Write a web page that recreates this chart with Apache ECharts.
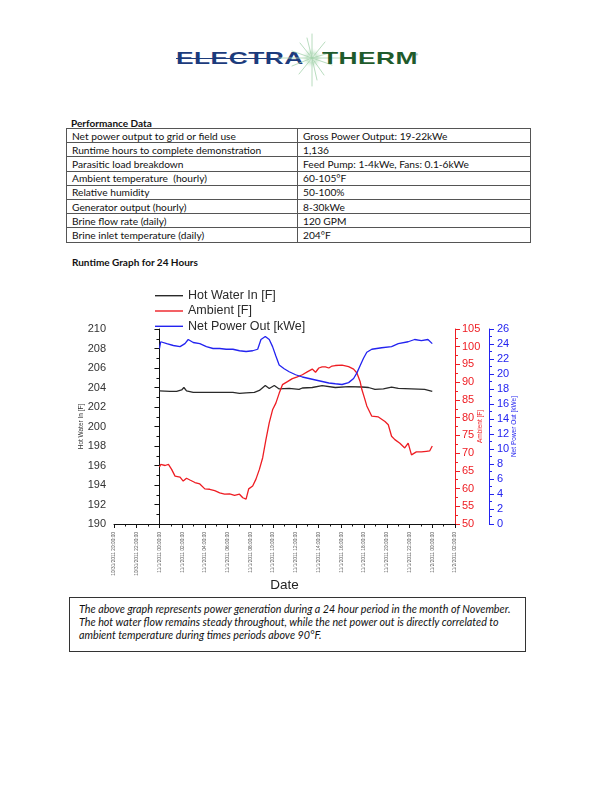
<!DOCTYPE html>
<html><head><meta charset="utf-8">
<script src="https://cdn.jsdelivr.net/npm/echarts@6/dist/echarts.min.js"></script>
<style>
html,body{margin:0;padding:0;background:#fff;}
#page{position:relative;width:612px;height:792px;overflow:hidden;font-family:Lato,"Open Sans",sans-serif;color:#111;}
#chart{position:absolute;left:0;top:0;width:612px;height:792px;}
.logo-t{position:absolute;font-family:"Liberation Sans",Arial,sans-serif;font-weight:bold;font-size:17px;line-height:17px;transform-origin:0 0;transform:scaleX(1.55);top:50px;letter-spacing:0.3px;}
.hd{position:absolute;font-weight:bold;font-size:10px;line-height:12px;white-space:nowrap;}
table.pd{position:absolute;left:66px;top:128px;width:464px;border-collapse:collapse;table-layout:fixed;font-size:10.2px;}
table.pd td{border:1px solid #555;height:13.2px;padding:0 5px;line-height:12px;white-space:nowrap;vertical-align:middle;}
.cap{position:absolute;left:69px;top:597px;width:438px;height:43px;border:1px solid #333;padding:3.5px 8px 6px 9px;font-style:italic;font-size:10.75px;line-height:13.3px;white-space:nowrap;}
</style></head>
<body><div id="page">
<div class="logo-t" style="left:176px;color:#1c3b7c;">ELECTRA</div>
<div style="position:absolute;left:176px;top:57.5px;width:95px;height:1.6px;background:#1c3b7c;"></div>
<svg style="position:absolute;left:262px;top:28px;" width="100" height="64">
<defs>
<radialGradient id="g" cx="50%" cy="50%" r="50%"><stop offset="0" stop-color="#ffffff"/><stop offset="0.45" stop-color="#cfe9d3"/><stop offset="1" stop-color="#ffffff" stop-opacity="0"/></radialGradient>
</defs>
<circle cx="50" cy="30" r="11" fill="url(#g)"/>
<g stroke="#a6d3ad" stroke-width="0.8" stroke-linecap="round">
<line x1="50" y1="30" x2="50" y2="6"/><line x1="50" y1="30" x2="50" y2="58"/>
<line x1="50" y1="30" x2="16" y2="30"/><line x1="50" y1="30" x2="86" y2="30"/>
<line x1="50" y1="30" x2="38" y2="15"/><line x1="50" y1="30" x2="63" y2="14"/>
<line x1="50" y1="30" x2="37" y2="46"/><line x1="50" y1="30" x2="62" y2="47"/>
<line x1="50" y1="30" x2="30" y2="23"/><line x1="50" y1="30" x2="71" y2="24"/>
<line x1="50" y1="30" x2="30" y2="38"/><line x1="50" y1="30" x2="70" y2="37"/>
<line x1="50" y1="30" x2="45" y2="10"/><line x1="50" y1="30" x2="55" y2="52"/>
</g></svg>
<div class="logo-t" style="left:322px;color:#1f5b2c;">THERM</div>
<div style="position:absolute;left:415px;top:52px;font-size:4px;color:#1f5b2c;font-family:'Liberation Sans';">®</div>

<div class="hd" style="left:71px;top:117px;">Performance Data</div>
<table class="pd"><colgroup><col style="width:231px"><col style="width:233px"></colgroup>
<tr><td>Net power output to grid or field use</td><td>Gross Power Output: 19-22kWe</td></tr>
<tr><td>Runtime hours to complete demonstration</td><td>1,136</td></tr>
<tr><td>Parasitic load breakdown</td><td>Feed Pump: 1-4kWe, Fans: 0.1-6kWe</td></tr>
<tr><td>Ambient temperature &nbsp;(hourly)</td><td>60-105°F</td></tr>
<tr><td>Relative humidity</td><td>50-100%</td></tr>
<tr><td>Generator output (hourly)</td><td>8-30kWe</td></tr>
<tr><td>Brine flow rate (daily)</td><td>120 GPM</td></tr>
<tr><td>Brine inlet temperature (daily)</td><td>204°F</td></tr>
</table>
<div class="hd" style="left:72px;top:255.5px;">Runtime Graph for 24 Hours</div>
<div class="cap">The above graph represents power generation during a 24 hour period in the month of November.<br>The hot water flow remains steady throughout, while the net power out is directly correlated to<br>ambient temperature during times periods above 90°F.</div>
<div id="chart"></div>
</div>
<script>
// x values: hours after 11/1/2011 00:00:00
var dateLabels = ["10/31/2011 20:00:00","10/31/2011 22:00:00","11/1/2011 00:00:00","11/1/2011 02:00:00","11/1/2011 04:00:00","11/1/2011 06:00:00","11/1/2011 08:00:00","11/1/2011 10:00:00","11/1/2011 12:00:00","11/1/2011 14:00:00","11/1/2011 16:00:00","11/1/2011 18:00:00","11/1/2011 20:00:00","11/1/2011 22:00:00","11/2/2011 00:00:00","11/2/2011 02:00:00"];
var seriesNames = ["Hot Water In [F]","Ambient [F]","Net Power Out [kWe]"];

var hotWaterHours = [0,0.93,1.51,1.95,2.15,2.38,2.97,4.13,5.30,6.46,7.04,7.62,8.35,8.79,9.31,9.66,10.10,10.53,11.41,12.28,12.57,13.44,14.31,15.47,16.64,17.80,18.39,18.96,19.70,20.42,21.01,22.17,23.33,24.0];
var hotWaterF = [203.65,203.6,203.6,203.75,204.0,203.65,203.5,203.5,203.5,203.5,203.4,203.45,203.5,203.7,204.2,203.9,204.2,203.85,203.9,203.8,203.95,204.0,204.2,204.0,204.1,204.05,204.0,203.8,203.85,204.05,203.9,203.85,203.8,203.6];

var ambientHours = [0.00,0.11,0.50,0.79,1.07,1.37,1.81,2.09,2.38,2.68,3.12,3.55,3.99,4.42,4.86,5.30,5.73,6.17,6.61,7.04,7.33,7.62,7.85,8.20,8.49,8.79,9.08,9.37,9.66,9.95,10.24,10.53,10.82,11.26,11.69,12.13,12.57,13.00,13.44,13.73,14.02,14.31,14.60,14.90,15.18,15.47,16.06,16.64,17.08,17.37,17.65,17.80,18.04,18.24,18.68,19.26,19.84,20.13,20.42,20.71,21.15,21.58,21.88,22.17,22.60,23.04,23.48,23.77,24.00];
var ambientF = [66.1,66.8,66.5,66.8,65.4,63.5,63.2,62.1,62.9,62.4,61.7,61.3,59.9,59.8,59.4,58.8,58.4,58.5,58.1,58.4,57.4,57.0,59.9,60.7,62.65,65.4,68.7,73.9,78.6,82.2,84.1,86.85,89.3,90.15,91.0,91.5,92.1,92.9,93.7,92.8,94.0,94.3,94.3,94.0,94.55,94.7,94.8,94.4,93.7,92.6,90.2,88.0,85.5,83.3,80.4,80.2,78.9,78.0,74.75,73.8,72.8,71.45,72.8,69.5,70.35,70.35,70.5,70.6,72.0];

var powerHours = [0.00,0.11,0.64,1.22,1.81,2.24,2.53,2.97,3.55,4.13,4.71,5.30,5.87,6.46,7.04,7.62,8.20,8.64,8.93,9.31,9.66,9.95,10.24,10.53,10.97,11.41,11.98,12.57,13.73,14.90,15.47,16.06,16.64,17.08,17.37,17.65,17.95,18.24,18.68,19.55,20.42,21.01,21.88,22.45,23.04,23.62,24.0];
var powerKWe = [23.4,24.3,24.05,23.8,23.65,24.05,24.6,24.2,24.05,23.65,23.4,23.4,23.3,23.3,23.1,23.0,23.1,23.3,24.6,25.0,24.6,23.65,22.4,21.2,20.7,20.3,19.9,19.6,19.2,18.8,18.7,18.6,18.85,19.4,20.15,21.1,22.1,22.9,23.3,23.5,23.65,24.05,24.3,24.6,24.45,24.6,24.05];

function pairs(xs, ys){ return xs.map(function(x,i){ return [x, ys[i]]; }); }

var FONT = '"Liberation Sans", Arial, sans-serif';
var RED = '#ee1d23', BLUE = '#2323f0', BLACK = '#2a2a2a';

var chart = echarts.init(document.getElementById('chart'), null, {renderer:'canvas'});
chart.setOption({
  animation:false,
  textStyle:{fontFamily:FONT},
  grid:{left:114, top:329, width:341, height:195},
  legend:{
    orient:'vertical', left:155, top:288.7, padding:0,
    icon:'rect', itemWidth:28, itemHeight:1.4, itemGap:1.3,
    textStyle:{fontSize:12.5, color:'#2a2a2a', fontFamily:FONT, lineHeight:14},
    data:seriesNames
  },
  xAxis:{
    type:'value', min:-4, max:26, interval:2,
    name:'Date', nameLocation:'middle', nameGap:54, nameMoveOverlap:false,
    nameTextStyle:{fontSize:13.5, color:'#222', fontFamily:FONT},
    axisLine:{show:true, onZero:false, lineStyle:{color:'#111', width:1}},
    axisTick:{show:true, length:4, lineStyle:{color:'#111'}},
    minorTick:{show:true, splitNumber:2, length:2.5, lineStyle:{color:'#111'}},
    splitLine:{show:false},
    axisLabel:{rotate:90, fontSize:4.8, color:'#555', margin:8,
      formatter:function(v){ var i = Math.round((v+4)/2); return dateLabels[i] || ''; }}
  },
  yAxis:[
    {type:'value', position:'left', min:190, max:210, interval:2,
     name:'Hot Water In [F]', nameLocation:'middle', nameGap:29, nameRotate:90, nameMoveOverlap:false,
     nameTextStyle:{fontSize:6.5, color:'#333'},
     axisLine:{show:true, lineStyle:{color:'#111'}},
     axisTick:{show:true, length:5, lineStyle:{color:'#111'}},
     minorTick:{show:true, splitNumber:2, length:3, lineStyle:{color:'#111'}},
     splitLine:{show:false},
     axisLabel:{fontSize:11, color:'#333', margin:8}},
    {type:'value', position:'right', offset:0, min:50, max:105, interval:5,
     name:'Ambient [F]', nameLocation:'middle', nameGap:22, nameRotate:90, nameMoveOverlap:false,
     nameTextStyle:{fontSize:6.5, color:RED},
     axisLine:{show:true, lineStyle:{color:RED}},
     axisTick:{show:true, length:5, lineStyle:{color:RED}},
     minorTick:{show:true, splitNumber:2, length:3, lineStyle:{color:RED}},
     splitLine:{show:false},
     axisLabel:{fontSize:11, color:RED, margin:7}},
    {type:'value', position:'right', offset:34, min:0, max:26, interval:2,
     name:'Net Power Out [kWe]', nameLocation:'middle', nameGap:22, nameRotate:90, nameMoveOverlap:false,
     nameTextStyle:{fontSize:6.5, color:BLUE},
     axisLine:{show:true, lineStyle:{color:BLUE}},
     axisTick:{show:true, length:5, lineStyle:{color:BLUE}},
     minorTick:{show:true, splitNumber:2, length:3, lineStyle:{color:BLUE}},
     splitLine:{show:false},
     axisLabel:{fontSize:11, color:BLUE, margin:8}}
  ],
  series:[
    {name:seriesNames[0], type:'line', yAxisIndex:0, symbol:'none', data:pairs(hotWaterHours, hotWaterF),
     lineStyle:{color:BLACK, width:1.3}, itemStyle:{color:BLACK}},
    {name:seriesNames[1], type:'line', yAxisIndex:1, symbol:'none', data:pairs(ambientHours, ambientF),
     lineStyle:{color:RED, width:1.3}, itemStyle:{color:RED}},
    {name:seriesNames[2], type:'line', yAxisIndex:2, symbol:'none', data:pairs(powerHours, powerKWe),
     lineStyle:{color:BLUE, width:1.3}, itemStyle:{color:BLUE}}
  ]
});
</script>
</body></html>
